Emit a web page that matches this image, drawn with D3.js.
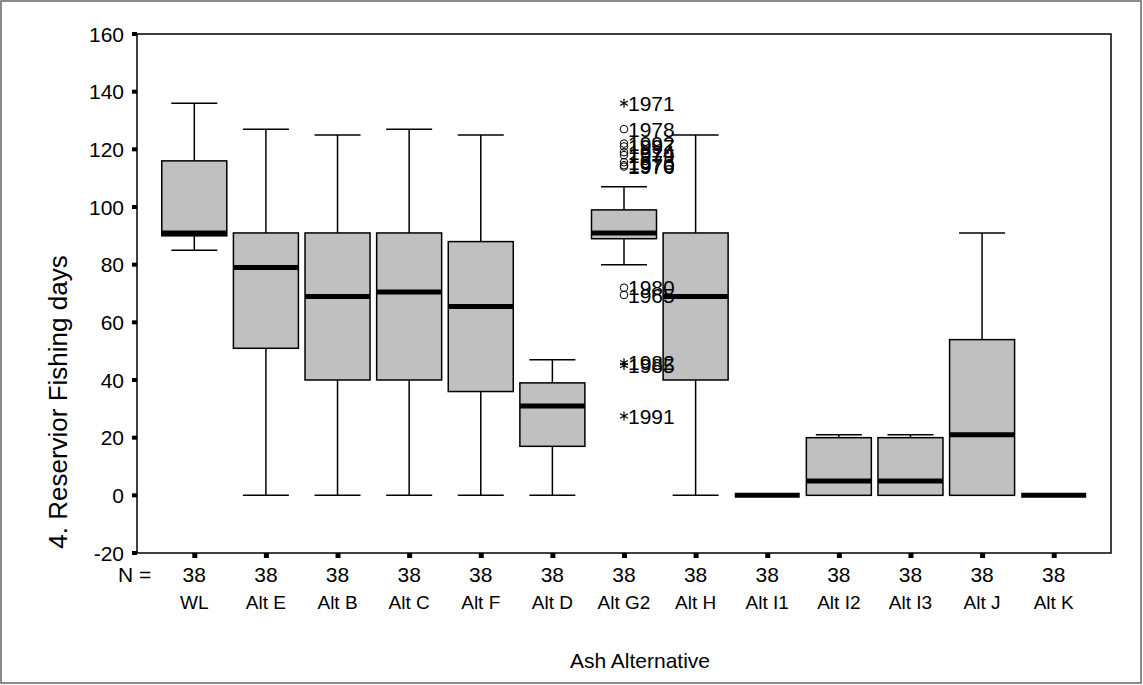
<!DOCTYPE html>
<head>
  <meta charset="utf-8">
  <script src="https://d3js.org/d3.v7.min.js"></script>
  <style>
    body { margin:0; background:#fff; }
    text { font-family: "Liberation Sans", Arial, sans-serif; fill:#000; }
  </style>
</head>
<body>
<script>
  // categories and box stats
  var categories = ['WL','Alt E','Alt B','Alt C','Alt F','Alt D','Alt G2','Alt H','Alt I1','Alt I2','Alt I3','Alt J','Alt K'];
  var counts     = [38,38,38,38,38,38,38,38,38,38,38,38,38];
  var lowWhisker = [85, 0, 0, 0, 0, 0, 80, 0, 0, 0, 0, 0, 0];
  var q1         = [90, 51, 40, 40, 36, 17, 89, 40, 0, 0, 0, 0, 0];
  var medians    = [91, 79, 69, 70.5, 65.5, 31, 91, 69, 0, 5, 5, 21, 0];
  var q3         = [116, 91, 91, 91, 88, 39, 99, 91, 0, 20, 20, 54, 0];
  var highWhisker= [136, 127, 125, 127, 125, 47, 107, 125, 0, 21, 21, 91, 0];
  var yTicks = [-20, 0, 20, 40, 60, 80, 100, 120, 140, 160];

  // outliers (all in Alt G2): o = outlier, e = extreme
  var outliers = [
    {cat:'Alt G2', year:1971, value:136, kind:'e'},
    {cat:'Alt G2', year:1978, value:127, kind:'o'},
    {cat:'Alt G2', year:1992, value:122, kind:'o'},
    {cat:'Alt G2', year:1997, value:121, kind:'o'},
    {cat:'Alt G2', year:1974, value:119, kind:'o'},
    {cat:'Alt G2', year:1979, value:118, kind:'o'},
    {cat:'Alt G2', year:1975, value:115.5, kind:'o'},
    {cat:'Alt G2', year:1970, value:114.5, kind:'o'},
    {cat:'Alt G2', year:1976, value:114, kind:'o'},
    {cat:'Alt G2', year:1980, value:72, kind:'o'},
    {cat:'Alt G2', year:1965, value:69.5, kind:'o'},
    {cat:'Alt G2', year:1982, value:46, kind:'e'},
    {cat:'Alt G2', year:1985, value:45, kind:'e'},
    {cat:'Alt G2', year:1991, value:27.5, kind:'e'}
  ];

  var width = 1143, height = 685;
  var plotL = 137, plotR = 1111, plotT = 34, plotB = 553;
  var boxW = 65, capW = 46;

  var svg = d3.select('body').append('svg')
    .attr('width', width)
    .attr('height', height);

  // outer frame
  svg.append('rect')
    .attr('x', 1).attr('y', 1)
    .attr('width', 1140).attr('height', 682)
    .attr('fill', 'none').attr('stroke', '#666').attr('stroke-width', 1.5);

  var x = d3.scalePoint()
    .domain(categories)
    .range([plotL, plotR])
    .padding(0.8);

  var y = d3.scaleLinear()
    .domain([-20, 160])
    .range([plotB, plotT]);

  // plot frame
  svg.append('rect')
    .attr('x', plotL).attr('y', plotT)
    .attr('width', plotR - plotL).attr('height', plotB - plotT)
    .attr('fill', 'none').attr('stroke', '#000').attr('stroke-width', 1.5);

  // y ticks: little squares + labels
  var yg = svg.append('g');
  yg.selectAll('rect').data(yTicks).enter().append('rect')
    .attr('x', plotL - 5).attr('y', function(d) { return y(d) - 2; })
    .attr('width', 5).attr('height', 4).attr('fill', '#000');
  yg.selectAll('text').data(yTicks).enter().append('text')
    .attr('x', plotL - 13).attr('y', function(d) { return y(d); })
    .attr('dy', '0.36em')
    .attr('text-anchor', 'end')
    .attr('font-size', 21)
    .text(function(d) { return d; });

  // x ticks
  var xg = svg.append('g');
  xg.selectAll('rect').data(categories).enter().append('rect')
    .attr('x', function(d) { return x(d) - 2; }).attr('y', plotB)
    .attr('width', 5).attr('height', 5).attr('fill', '#000');
  xg.selectAll('text.n').data(categories).enter().append('text')
    .attr('class', 'n')
    .attr('x', function(d) { return x(d); }).attr('y', 582)
    .attr('text-anchor', 'middle').attr('font-size', 21)
    .text(function(d, i) { return counts[i]; });
  xg.selectAll('text.c').data(categories).enter().append('text')
    .attr('class', 'c')
    .attr('x', function(d) { return x(d); }).attr('y', 609)
    .attr('text-anchor', 'middle').attr('font-size', 19)
    .text(function(d) { return d; });
  svg.append('text')
    .attr('x', 118).attr('y', 582).attr('font-size', 21)
    .text('N =');

  // axis titles
  svg.append('text')
    .attr('x', 640).attr('y', 668)
    .attr('text-anchor', 'middle').attr('font-size', 21)
    .text('Ash Alternative');
  svg.append('text')
    .attr('transform', 'translate(67,402) rotate(-90)')
    .attr('text-anchor', 'middle').attr('font-size', 26)
    .text('4. Reservior Fishing days');

  // boxes
  var g = svg.selectAll('.box')
    .data(categories)
    .enter().append('g').attr('class', 'box');

  g.append('line') // upper whisker
    .attr('x1', function(d) { return x(d); }).attr('x2', function(d) { return x(d); })
    .attr('y1', function(d, i) { return y(q3[i]); })
    .attr('y2', function(d, i) { return y(highWhisker[i]); })
    .attr('stroke', '#000').attr('stroke-width', 1.5);
  g.append('line') // lower whisker
    .attr('x1', function(d) { return x(d); }).attr('x2', function(d) { return x(d); })
    .attr('y1', function(d, i) { return y(q1[i]); })
    .attr('y2', function(d, i) { return y(lowWhisker[i]); })
    .attr('stroke', '#000').attr('stroke-width', 1.5);
  g.filter(function(d, i) { return highWhisker[i] > lowWhisker[i]; })
    .each(function(d) {
      var i = categories.indexOf(d);
      var sel = d3.select(this);
      [highWhisker[i], lowWhisker[i]].forEach(function(v) {
        sel.append('line')
          .attr('x1', x(d) - capW / 2).attr('x2', x(d) + capW / 2)
          .attr('y1', y(v)).attr('y2', y(v))
          .attr('stroke', '#000').attr('stroke-width', 1.5);
      });
      sel.append('rect')
        .attr('x', x(d) - boxW / 2).attr('width', boxW)
        .attr('y', y(q3[i])).attr('height', y(q1[i]) - y(q3[i]))
        .attr('fill', '#c0c0c0').attr('stroke', '#000').attr('stroke-width', 1.5);
    });

  g.append('line') // median
    .attr('x1', function(d) { return x(d) - boxW / 2; })
    .attr('x2', function(d) { return x(d) + boxW / 2; })
    .attr('y1', function(d, i) { return y(medians[i]); })
    .attr('y2', function(d, i) { return y(medians[i]); })
    .attr('stroke', '#000').attr('stroke-width', 5);

  // outliers and extremes
  var og = svg.selectAll('.out')
    .data(outliers)
    .enter().append('g')
    .attr('transform', function(d) { return 'translate(' + x(d.cat) + ',' + y(d.value) + ')'; });

  og.filter(function(d) { return d.kind === 'o'; })
    .append('circle')
    .attr('r', 3.8).attr('fill', 'none').attr('stroke', '#000').attr('stroke-width', 1);

  og.filter(function(d) { return d.kind === 'e'; })
    .append('path')
    .attr('d', 'M0,-4.5V4.5M-3.9,-2.25L3.9,2.25M-3.9,2.25L3.9,-2.25')
    .attr('stroke', '#000').attr('stroke-width', 1.2);

  og.append('text')
    .attr('x', 4).attr('dy', '0.36em')
    .attr('font-size', 21)
    .text(function(d) { return d.year; });
</script>
</body>
